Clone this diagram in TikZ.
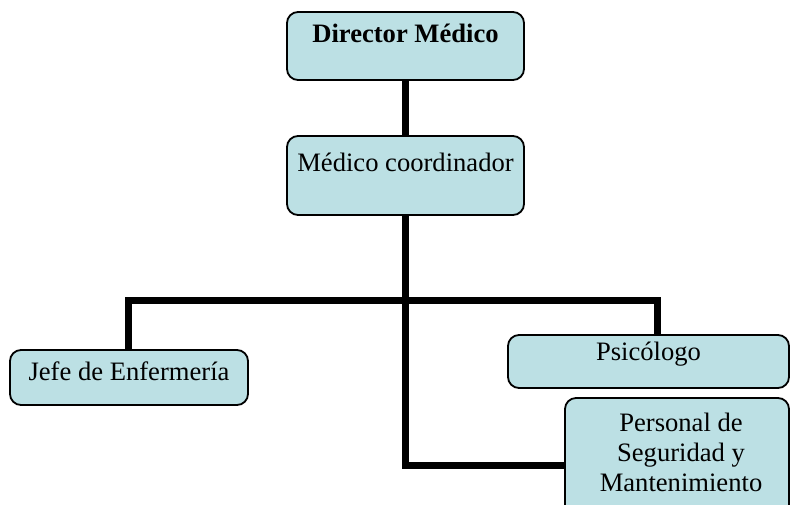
\documentclass[tikz,border=0pt]{standalone}
\usepackage{fontspec}
\setmainfont{Liberation Serif}
\definecolor{boxfill}{RGB}{188,224,228}
\begin{document}
\begin{tikzpicture}[x=1pt,y=-1pt,
  orgbox/.style={draw=black,line width=1.8pt,fill=boxfill,rounded corners=11pt,inner sep=0pt},
  txt/.style={inner sep=0pt,align=center,font=\fontsize{26.6}{30}\selectfont},
  link/.style={draw=black,line width=7pt,line join=miter}]
\useasboundingbox (0,0) rectangle (791,504);
\clip (0,0) rectangle (791,504);
% boxes
\node[orgbox,minimum width=237pt,minimum height=68pt] (dir) at (405.5,46) {};
\node[orgbox,minimum width=237pt,minimum height=79pt] (coord) at (405.5,175.5) {};
\node[orgbox,minimum width=238pt,minimum height=55pt] (jefe) at (129,377.5) {};
\node[orgbox,minimum width=281pt,minimum height=53pt] (psic) at (648.5,361.5) {};
\node[orgbox,minimum width=224pt,minimum height=134pt] (pers) at (677,465) {};
% texts
\node[txt,font=\fontsize{26.6}{30}\selectfont\bfseries] (dirt) at (405.5,33) {Director Médico};
\node[txt] (coordt) at (405.5,162) {Médico coordinador};
\node[txt] (jefet) at (129,371) {Jefe de Enfermería};
\node[txt] (psict) at (648.5,354) {Psicólogo};
\node[txt] (perst) at (681,452) {Personal de\\Seguridad y\\Mantenimiento};
% connectors
\coordinate (busL) at (128,300);
\coordinate (busR) at (657,300);
\draw[link] (dir.south) -- (coord.north);
\draw[link] (coord.south) -- (coord.south |- pers.west) -- (pers.west);
\draw[link] (jefe.north -| busL) -- (busL) -- (busR) -- (psic.north -| busR);
\end{tikzpicture}
\end{document}
